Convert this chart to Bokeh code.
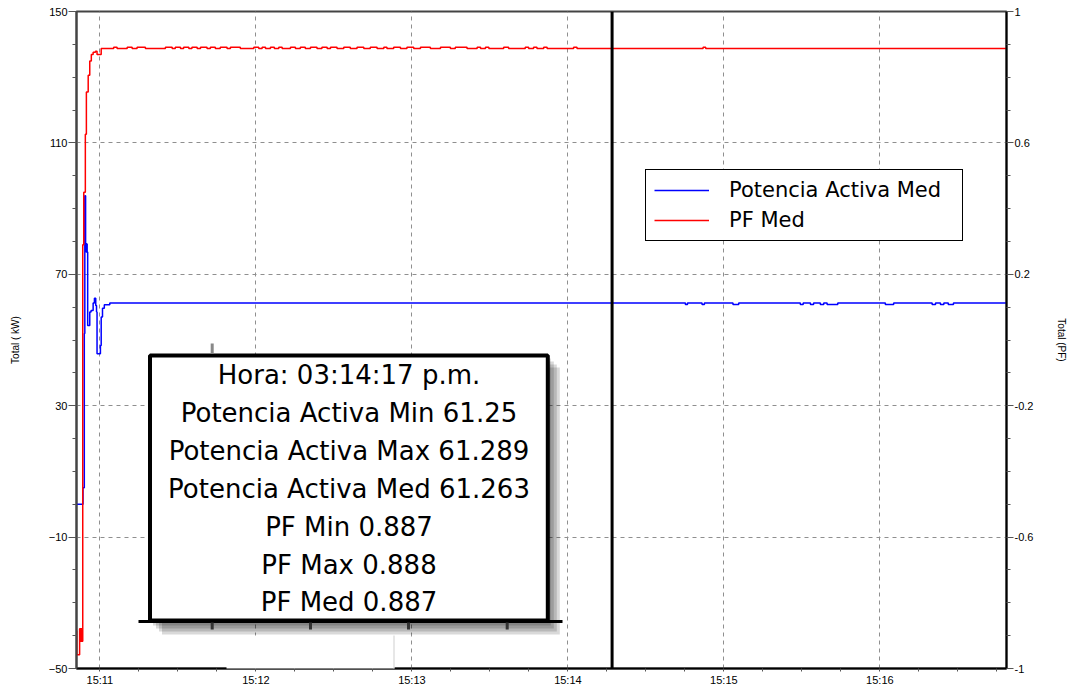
from bokeh.plotting import figure
from bokeh.models import Range1d, LinearAxis, FixedTicker, Span, BoxAnnotation, Label
from bokeh.embed import file_html
from bokeh.resources import INLINE

# ---------------- data (time = seconds after 15:11:00) ----------------
x_tick_seconds = [0, 60, 120, 180, 240, 300]
x_tick_labels = ["15:11", "15:12", "15:13", "15:14", "15:15", "15:16"]
x_minor_seconds = [15, 30, 45, 75, 90, 105, 135, 150, 165, 195, 210, 225,
                   255, 270, 285, 315, 330, 345]
kw_ticks = [-50, -10, 30, 70, 110, 150]
kw_minor = [-40, -30, -20, 0, 10, 20, 40, 50, 60, 80, 90, 100, 120, 130, 140]
pf_ticks = [-1, -0.6, -0.2, 0.2, 0.6, 1]
pf_tick_labels = ["-1", "-0.6", "-0.2", "0.2", "0.6", "1"]
pf_minor = [-0.9, -0.8, -0.7, -0.5, -0.4, -0.3, -0.1, 0.0, 0.1, 0.3, 0.4, 0.5,
            0.7, 0.8, 0.9]

# Potencia Activa Med (kW)
blue_time = [-9.0, -6.5, -6.0, -5.8, -5.5, -5.3, -5.1, -4.9, -4.7, -3.9, -3.4,
             -2.6, -2.1, -1.6, -1.3, -1.1, 0.2, 0.5, 1.0, 1.7, 3.8,
             225.2, 226.0, 231.6, 232.5, 243.5, 245.7, 269.4, 270.5, 273.3,
             274.5, 277.1, 278.4, 279.7, 283.8, 302.1, 305.3, 320.1, 321.4,
             323.3, 324.6, 326.3, 328.3, 348.5]
blue_kw = [0.0, 5.0, 52.0, 93.9, 79.2, 76.8, 79.2, 76.8, 54.4, 58.5, 59.0,
           61.3, 62.7, 60.5, 58.5, 45.8, 48.3, 57.0, 59.7, 60.7, 61.26,
           60.8, 61.26, 60.8, 61.26, 60.8, 61.26, 60.8, 61.26, 60.8,
           61.26, 60.8, 61.26, 60.8, 61.26, 60.8, 61.26, 60.8, 61.26,
           60.8, 61.26, 60.8, 61.26, 61.26]

# PF Med
red_time = [-9.0, -8.9, -7.8, -7.5, -7.2, -6.9, -6.6, -6.2, -5.6, -5.2, -4.5,
            -3.9, -3.3, -2.6, -1.7, -1.1, 0.5,
            5.3, 6.6, 10.5, 12.4, 14.3, 17.5, 25.2, 27.8, 29.0, 31.0,
            32.2, 34.2, 35.4, 37.4, 38.7, 41.2, 42.5, 44.4, 46.3, 48.9,
            50.2, 54.0, 59.2, 61.1, 62.4, 63.7, 65.6, 67.1, 68.8, 70.1,
            73.3, 75.2, 77.1, 79.0, 81.0, 83.5, 85.4, 87.4, 88.7, 91.2,
            93.8, 96.3, 98.9, 101.5, 104.0, 106.6, 109.2, 110.4, 113.0, 115.6,
            118.1, 120.7, 123.3, 127.1, 131.0, 134.8, 136.7, 141.2, 145.1, 146.4,
            148.3, 149.6, 155.3, 157.2, 163.6, 164.9, 166.8, 168.1, 170.7, 172.0,
            182.2, 183.5, 232.0, 233.0,
            348.5]
red_pf = [-0.885, -0.958, -0.879, -0.917, -0.879, -0.917, 0.290, 0.450, 0.626,
          0.755, 0.806, 0.849, 0.869, 0.876, 0.879, 0.869, 0.887,
          0.891, 0.887, 0.891, 0.887, 0.891, 0.887, 0.891, 0.887, 0.891, 0.887,
          0.891, 0.887, 0.891, 0.887, 0.891, 0.887, 0.891, 0.887, 0.891, 0.887,
          0.891, 0.887, 0.891, 0.887, 0.891, 0.887, 0.891, 0.887, 0.891, 0.887,
          0.891, 0.887, 0.891, 0.887, 0.891, 0.887, 0.891, 0.887, 0.891, 0.887,
          0.891, 0.887, 0.891, 0.887, 0.891, 0.887, 0.891, 0.887, 0.891, 0.887,
          0.891, 0.887, 0.891, 0.887, 0.891, 0.887, 0.891, 0.887, 0.891, 0.887,
          0.891, 0.887, 0.891, 0.887, 0.891, 0.887, 0.891, 0.887, 0.891, 0.887,
          0.891, 0.887, 0.891, 0.887,
          0.887]

cursor_time = 197  # 15:14:17
tooltip_lines = ["Hora: 03:14:17 p.m.",
                 "Potencia Activa Min 61.25",
                 "Potencia Activa Max 61.289",
                 "Potencia Activa Med 61.263",
                 "PF Min 0.887",
                 "PF Max 0.888",
                 "PF Med 0.887"]

n = min(len(red_time), len(red_pf))
red_time, red_pf = red_time[:n], red_pf[:n]

# ---------------- figure ----------------
W, H = 1070, 688
ML, MR, MT, MB = 76, 64, 11, 18
TICK_FONT = "Liberation Sans"

p = figure(width=W, height=H, output_backend="svg", toolbar_location=None,
           x_range=Range1d(-9.0, 348.7), y_range=Range1d(-50, 150),
           min_border_left=ML, min_border_right=MR, min_border_top=MT,
           min_border_bottom=MB, background_fill_color="white",
           border_fill_color="white")
p.extra_y_ranges = {"pf": Range1d(-1, 1)}
p.outline_line_color = "#444444"
p.outline_line_width = 2

xt = FixedTicker(ticks=x_tick_seconds, minor_ticks=x_minor_seconds)
yt = FixedTicker(ticks=kw_ticks, minor_ticks=kw_minor)
pt = FixedTicker(ticks=pf_ticks, minor_ticks=pf_minor)

xa = p.xaxis[0]
xa.ticker = xt
xa.major_label_overrides = dict(zip(x_tick_seconds, x_tick_labels))
ya = p.yaxis[0]
ya.ticker = yt
ya.axis_label = "Total ( kW)"
ra = LinearAxis(y_range_name="pf", ticker=pt, axis_label="Total (PF)")
ra.major_label_overrides = dict(zip(pf_ticks, pf_tick_labels))
p.add_layout(ra, "right")

for ax in (xa, ya, ra):
    ax.major_label_text_font = TICK_FONT
    ax.major_label_text_font_size = "11px"
    ax.major_label_text_color = "black"
    ax.axis_label_text_font = TICK_FONT
    ax.axis_label_text_font_size = "10px"
    ax.axis_label_text_font_style = "normal"
    ax.axis_label_text_color = "black"
    ax.axis_line_width = 2
    ax.major_tick_in = 0
    ax.minor_tick_in = 0
    ax.major_tick_line_width = 1
    ax.minor_tick_line_width = 1

xa.axis_line_color = "black"
xa.major_tick_out = 3
xa.minor_tick_out = 3
xa.major_label_standoff = 2
xa.major_tick_line_color = "#555555"
xa.minor_tick_line_color = "#555555"

ya.axis_line_color = "#444444"
ya.major_tick_out = 8
ya.minor_tick_out = 4
ya.major_label_standoff = 1
ya.axis_label_standoff = 25
ya.major_tick_line_color = "#555555"
ya.minor_tick_line_color = "#555555"

ra.axis_line_color = "black"
ra.major_tick_out = 7
ra.minor_tick_out = 4
ra.major_label_standoff = 1
ra.axis_label_standoff = 20
ra.major_tick_line_color = "#555555"
ra.minor_tick_line_color = "#555555"

p.xgrid.ticker = xt
p.ygrid.ticker = yt
for g in (p.xgrid, p.ygrid):
    g.grid_line_color = "#8f8f8f"
    g.grid_line_dash = "4 4"
    g.grid_line_width = 1

# series
p.step(blue_time, blue_kw, mode="after", line_color="#0000ff", line_width=1.5,
       legend_label="Potencia Activa Med")
p.step(red_time, red_pf, mode="after", line_color="#ff0000", line_width=1.5,
       y_range_name="pf", legend_label="PF Med")

# cursor
p.add_layout(Span(location=cursor_time, dimension="height", line_color="black",
                  line_width=3))

# legend
lg = p.legend[0]
lg.location = (569, 427)
lg.border_line_color = "black"
lg.border_line_width = 1.5
lg.border_line_alpha = 1
lg.background_fill_color = "white"
lg.background_fill_alpha = 1
lg.padding = 8
lg.spacing = 6
lg.margin = 0
lg.glyph_width = 55
lg.glyph_height = 24
lg.label_height = 24
lg.label_width = 225
lg.label_standoff = 20
lg.label_text_font = "DejaVu Sans"
lg.label_text_font_size = "21px"
lg.label_text_color = "black"

# ---------------- tooltip overlay (page pixel layout) ----------------
FL = ML
FB = H - MB


def sx(px):
    return px - FL


def sy(py):
    return FB - py


def box(l, t, r, b, fill, alpha=1.0, line=None, lw=1):
    return BoxAnnotation(left=sx(l), right=sx(r), top=sy(t), bottom=sy(b),
                         left_units="screen", right_units="screen",
                         top_units="screen", bottom_units="screen",
                         fill_color=fill, fill_alpha=alpha,
                         line_color=line, line_alpha=1.0, line_width=lw)


BL, BT, BR, BB = 149.5, 357, 547.3, 622
for k in (3, 6, 9, 12):
    p.add_layout(box(BL + k, BT + k, BR + k, BB + k + 2, "black", 0.15))
# white patch over the axis
p.add_layout(box(226, 637, 394, 679, "white"))
p.add_layout(box(393, 637, 394, 679, "#d0d0d0"))
p.add_layout(box(226, 678, 394, 679, "#d0d0d0"))
# main box
p.add_layout(box(BL, BT, BR, BB, "white", 1.0, "black", 4))
p.add_layout(box(138, 621.5, 562, 624.5, "black"))
for tx in (211.7, 310, 408, 506.7):
    p.add_layout(box(tx - 1.5, 624, tx + 1.5, 631, "#333333"))
p.add_layout(box(210.2, 345, 213.2, 355, "#888888"))

line_y = [376.7, 414.5, 452.0, 490.0, 528.3, 566.0, 603.3]
for txt, ly in zip(tooltip_lines, line_y):
    p.add_layout(Label(x=sx(348.5), y=sy(ly), x_units="screen", y_units="screen",
                       text=txt, text_align="center", text_baseline="middle",
                       text_font="DejaVu Sans", text_font_size="26px",
                       text_color="black"))

open("out.html", "w").write(file_html(p, INLINE))
